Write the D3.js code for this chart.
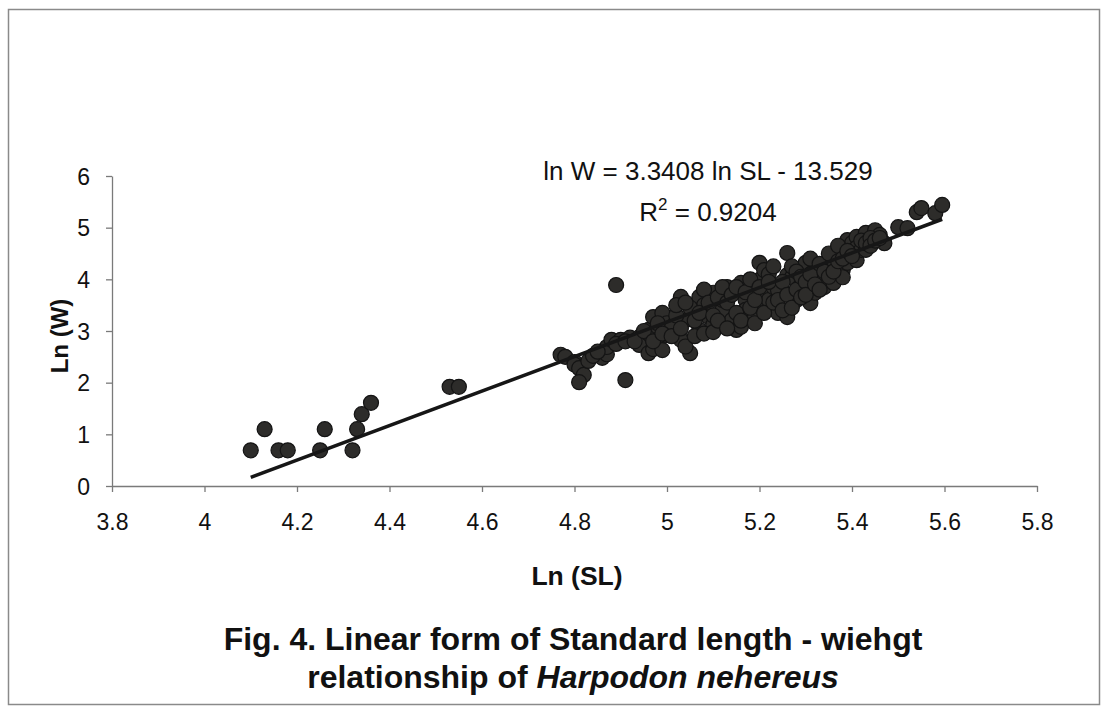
<!DOCTYPE html>
<meta charset="utf-8">
<style type="text/css">
body {
  margin: 0;
  background: #fff;
  font-family: "Liberation Sans", Arial, sans-serif;
}

.axis path,
.axis line {
  fill: none;
  stroke: #7a7a7a;
  stroke-width: 1.3px;
}

.axis text {
  font-family: "Liberation Sans", Arial, sans-serif;
  font-size: 23px;
  fill: #111;
}

.label {
  font-weight: bold;
  fill: #111;
}

.eq {
  font-size: 26px;
  fill: #111;
}

.caption {
  font-size: 32px;
  font-weight: bold;
  fill: #111;
}

.dot {
  fill: #2d2c2a;
  stroke: #141414;
  stroke-width: 1.2px;
}

.trend {
  stroke: #161616;
  stroke-width: 3.5px;
}
</style>
<body>
<script src="https://d3js.org/d3.v7.min.js"></script>
<script>
// ln(SL) and ln(W) per fish
var lnSL = [
  4.10, 4.13, 4.16, 4.18, 4.25, 4.26, 4.32, 4.33, 4.34, 4.36, 4.53, 4.55,
  4.77, 4.78, 4.80, 4.80, 4.81, 4.82, 4.81, 4.83, 4.86, 4.87, 4.87, 4.88, 4.90, 4.91, 4.89,
  4.92, 4.94, 4.94, 4.96, 4.96, 4.96, 4.97, 4.98, 4.98, 4.97, 4.99, 4.99, 5.00, 5.00,
  5.01, 5.03, 5.03, 5.04, 5.05, 5.06, 5.07, 5.07, 5.09, 5.10, 5.10, 5.12, 5.13, 5.14,
  5.15, 5.16, 5.16, 5.17, 5.17, 5.19, 5.20, 5.20, 5.21, 5.21, 5.21, 5.08, 5.12, 5.05,
  5.22, 5.23, 5.24, 5.24, 5.26, 5.26, 5.26, 5.27, 5.28, 5.29, 5.30, 5.31, 5.32, 5.32,
  5.33, 5.34, 5.35, 5.36, 5.36, 5.37, 5.38, 5.38,
  5.39, 5.39, 5.40, 5.41, 5.41, 5.41, 5.42, 5.43, 5.43, 5.45, 5.46, 5.47, 5.50, 5.52,
  5.54, 5.55, 5.58, 5.595,
  4.84, 4.85, 4.89, 4.91, 4.93, 4.95, 4.97, 4.98, 4.99,
  5.01, 5.02, 5.02, 5.03, 5.04, 5.04, 5.06, 5.06, 5.07, 5.08, 5.08, 5.09, 5.10, 5.10,
  5.11, 5.11, 5.12, 5.13, 5.13, 5.14, 5.15, 5.15,
  5.16, 5.17, 5.18, 5.18, 5.19, 5.19, 5.20,
  5.21, 5.22, 5.22, 5.23, 5.23, 5.24, 5.25, 5.25,
  5.26, 5.27, 5.27, 5.28, 5.28, 5.29, 5.29, 5.30,
  5.30, 5.31, 5.31, 5.32, 5.33, 5.33, 5.34, 5.35,
  5.35, 5.36, 5.37, 5.37, 5.38, 5.39, 5.40,
  5.42, 5.43, 5.44, 5.44, 5.45, 5.46
];

var lnW = [
  0.69, 1.10, 0.69, 0.69, 0.69, 1.10, 0.69, 1.10, 1.39, 1.61, 1.92, 1.92,
  2.54, 2.50, 2.40, 2.35, 2.28, 2.15, 2.01, 2.42, 2.48, 2.55, 2.69, 2.83, 2.83, 2.05, 3.89,
  2.87, 2.88, 2.73, 2.95, 2.57, 3.02, 3.27, 3.08, 2.83, 2.65, 3.35, 2.63, 3.15, 2.92,
  3.08, 3.66, 2.83, 3.21, 2.57, 3.41, 3.66, 3.02, 3.27, 3.74, 3.12, 3.41, 3.85, 3.21,
  3.02, 3.93, 3.08, 3.60, 3.41, 3.27, 4.32, 3.99, 3.54, 4.18, 3.74, 3.50, 3.60, 3.45,
  3.60, 3.85, 3.35, 3.79, 4.51, 3.27, 4.08, 4.04, 3.60, 3.89, 4.32, 3.54, 3.74, 4.18,
  4.04, 3.85, 4.37, 3.93, 4.28, 4.51, 4.18, 4.04,
  4.76, 4.32, 4.70, 4.82, 4.37, 4.61, 4.57, 4.90, 4.57, 4.95, 4.86, 4.70, 5.01, 4.99,
  5.30, 5.38, 5.28, 5.44,
  2.52, 2.60, 2.75, 2.80, 2.80, 3.00, 2.80, 3.15, 2.95,
  2.90, 3.30, 3.50, 3.05, 2.70, 3.55, 2.90, 3.20, 3.35, 3.80, 2.95, 3.55, 3.30, 2.98,
  3.20, 3.65, 3.85, 3.05, 3.55, 3.70, 3.35, 3.85,
  3.20, 3.75, 4.00, 3.45, 3.60, 3.15, 3.85,
  3.35, 4.10, 3.95, 3.55, 4.25, 3.60, 3.95, 3.40,
  3.70, 3.45, 4.25, 3.80, 4.15, 4.05, 3.65, 3.95,
  3.70, 4.10, 4.40, 3.90, 4.30, 3.80, 4.15, 4.05,
  4.50, 4.15, 4.35, 4.65, 4.40, 4.55, 4.45,
  4.75, 4.70, 4.80, 4.65, 4.75, 4.80
];

var xTicks = [3.8, 4, 4.2, 4.4, 4.6, 4.8, 5, 5.2, 5.4, 5.6, 5.8];
var yTicks = [0, 1, 2, 3, 4, 5, 6];

var slope = 3.3408;
var intercept = -13.529;
var rSquared = 0.9204;

var width = 1105, height = 707;
var plot = { left: 112, right: 1037, top: 176, bottom: 486 };

var svg = d3.select("body")
  .append("svg")
    .attr("width", width)
    .attr("height", height);

// outer frame
svg.append("rect")
  .attr("x", 8.5)
  .attr("y", 9.5)
  .attr("width", 1091)
  .attr("height", 695)
  .attr("fill", "none")
  .attr("stroke", "#8a8a8a")
  .attr("stroke-width", 1.5);

var xscale = d3.scaleLinear()
  .domain([3.8, 5.8])
  .range([plot.left, plot.right]);

var yscale = d3.scaleLinear()
  .domain([0, 6])
  .range([plot.bottom, plot.top]);

var xAxis = d3.axisBottom(xscale)
  .tickValues(xTicks)
  .tickFormat(function(d) { return String(d); })
  .tickSizeInner(6)
  .tickSizeOuter(0)
  .tickPadding(22);

var yAxis = d3.axisLeft(yscale)
  .tickValues(yTicks)
  .tickFormat(function(d) { return String(d); })
  .tickSizeInner(6)
  .tickSizeOuter(0)
  .tickPadding(16);

svg.append("g")
  .attr("class", "x axis")
  .attr("transform", "translate(0," + plot.bottom + ")")
  .call(xAxis);

svg.append("g")
  .attr("class", "y axis")
  .attr("transform", "translate(" + plot.left + ",0)")
  .call(yAxis);

svg.selectAll(".axis text").attr("font-family", null).attr("font-size", null);
svg.select(".y.axis").selectAll("text").attr("dy", "0.36em");

var data = lnSL.map(function(x, i) { return { x: x, y: lnW[i] }; });

svg.append("g")
  .selectAll("circle")
  .data(data)
  .enter().append("circle")
    .attr("class", "dot")
    .attr("cx", function(d) { return xscale(d.x); })
    .attr("cy", function(d) { return yscale(d.y); })
    .attr("r", 7.5);

// fitted line over the range of the data
var xr = d3.extent(lnSL);
svg.append("line")
  .attr("class", "trend")
  .attr("x1", xscale(xr[0]))
  .attr("y1", yscale(slope * xr[0] + intercept))
  .attr("x2", xscale(xr[1]))
  .attr("y2", yscale(slope * xr[1] + intercept));

// equation
var eqX = 708;
svg.append("text")
  .attr("class", "eq")
  .attr("x", eqX)
  .attr("y", 180)
  .attr("text-anchor", "middle")
  .text("ln W = " + slope + " ln SL - " + Math.abs(intercept));

var r2 = svg.append("text")
  .attr("class", "eq")
  .attr("x", eqX)
  .attr("y", 221)
  .attr("text-anchor", "middle");
r2.append("tspan").text("R");
r2.append("tspan").attr("dy", -11).style("font-size", "17px").text("2");
r2.append("tspan").attr("dy", 11).text(" = " + rSquared);

// axis titles
svg.append("text")
  .attr("class", "label")
  .style("font-size", "24px")
  .attr("transform", "translate(68,336) rotate(-90)")
  .attr("text-anchor", "middle")
  .text("Ln (W)");

svg.append("text")
  .attr("class", "label")
  .style("font-size", "26.5px")
  .attr("x", 577)
  .attr("y", 585)
  .attr("text-anchor", "middle")
  .text("Ln (SL)");

// caption
svg.append("text")
  .attr("class", "caption")
  .attr("x", 573)
  .attr("y", 650)
  .attr("text-anchor", "middle")
  .text("Fig. 4. Linear form of Standard length - wiehgt");

var cap2 = svg.append("text")
  .attr("class", "caption")
  .attr("x", 573)
  .attr("y", 688)
  .attr("text-anchor", "middle");
cap2.append("tspan").text("relationship of ");
cap2.append("tspan").style("font-style", "italic").text("Harpodon nehereus");
</script>
</body>
